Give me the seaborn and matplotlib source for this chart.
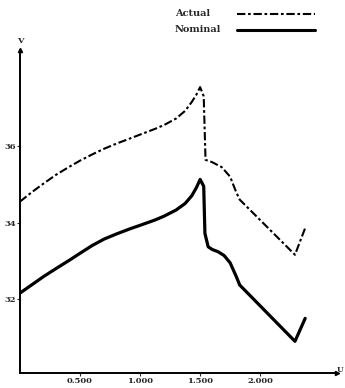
import matplotlib
matplotlib.use("Agg")
import matplotlib.pyplot as plt
import seaborn as sns
import pandas as pd

# data
u_nominal = [0.0, 0.1, 0.2, 0.3, 0.417, 0.5, 0.6, 0.7, 0.8, 0.917, 1.0, 1.125, 1.2,
             1.3, 1.375, 1.43, 1.47, 1.5, 1.53, 1.54, 1.567, 1.6, 1.65, 1.7, 1.75,
             1.8, 1.83, 2.29, 2.375]
v_nominal = [32.16, 32.38, 32.6, 32.8, 33.03, 33.2, 33.4, 33.57, 33.7, 33.84, 33.93,
             34.07, 34.17, 34.33, 34.5, 34.7, 34.92, 35.13, 34.95, 33.72, 33.37,
             33.3, 33.24, 33.14, 32.95, 32.6, 32.37, 30.9, 31.5]
u_actual = [0.0, 0.1, 0.2, 0.3, 0.4, 0.5, 0.6, 0.7, 0.8, 0.917, 1.0, 1.125, 1.2,
            1.3, 1.375, 1.43, 1.47, 1.5, 1.53, 1.545, 1.6, 1.68, 1.75, 1.8, 1.83,
            2.29, 2.375]
v_actual = [34.55, 34.8, 35.03, 35.25, 35.44, 35.62, 35.78, 35.93, 36.06, 36.2, 36.3,
            36.45, 36.55, 36.72, 36.92, 37.15, 37.35, 37.54, 37.3, 35.64, 35.58,
            35.45, 35.2, 34.8, 34.6, 33.16, 33.86]
x_ticks = [0.5, 1.0, 1.5, 2.0]
x_tick_labels = ["0.500", "1.000", "1.500", "2.000"]
y_ticks = [32, 34, 36]
y_tick_labels = ["32", "34", "36"]

sns.set_style("white")
plt.rcParams['font.family'] = ['DejaVu Serif']

df_a = pd.DataFrame({"u": u_actual, "v": v_actual})
df_n = pd.DataFrame({"u": u_nominal, "v": v_nominal})

fig = plt.figure(figsize=(3.45, 3.88), dpi=100)
ax = fig.add_axes([20/345, 15.3/388, 317/345, 322.7/388])

dash = (0, (4, 1.3, 1.3, 1.3))
sns.lineplot(data=df_a, x="u", y="v", ax=ax, color="black", lw=1.5,
             linestyle=dash, sort=False, estimator=None)
sns.lineplot(data=df_n, x="u", y="v", ax=ax, color="black", lw=2.3,
             sort=False, estimator=None)

ax.set_xlim(0, 2.64)
ax.set_ylim(30.08, 38.51)
ax.set_xlabel("")
ax.set_ylabel("")
for s in ["top", "right"]:
    ax.spines[s].set_visible(False)
for s in ["left", "bottom"]:
    ax.spines[s].set_linewidth(1.4)
    ax.spines[s].set_color("black")

ax.set_xticks(x_ticks)
ax.set_xticklabels(x_tick_labels, fontsize=6, fontweight="bold")
ax.set_yticks(y_ticks)
ax.set_yticklabels(y_tick_labels, fontsize=6, fontweight="bold")
ax.tick_params(axis="both", length=2, width=0.8, direction="out", pad=1,
               bottom=True, left=True)

# arrows at axis ends
ax.plot(1, 0, ">", color="black", ms=3, transform=ax.transAxes, clip_on=False)
ax.plot(0, 1, "^", color="black", ms=3, transform=ax.transAxes, clip_on=False)
ax.text(0, 1.015, "V", transform=ax.transAxes, ha="center", va="bottom",
        fontsize=6, fontweight="bold")
fig.text(340/345, 1 - 370/388, "U", ha="center", va="center",
         fontsize=5.5, fontweight="bold")

# legend drawn in figure coordinates
fig.text(175/345, 1 - 14/388, "Actual", ha="left", va="center",
         fontsize=7, fontweight="bold")
fig.text(175/345, 1 - 30/388, "Nominal", ha="left", va="center",
         fontsize=7, fontweight="bold")
fig.add_artist(plt.Line2D([237/345, 315/345], [1 - 14/388, 1 - 14/388],
                          color="black", lw=1.5, linestyle=dash))
fig.add_artist(plt.Line2D([237/345, 315/345], [1 - 30/388, 1 - 30/388],
                          color="black", lw=2.2))

fig.savefig("out.png", dpi=100)
